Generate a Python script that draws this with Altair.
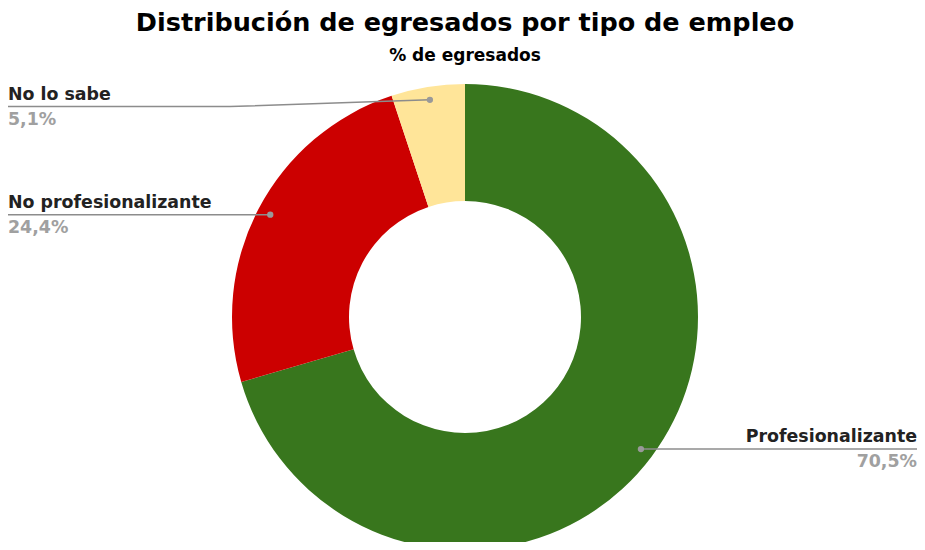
import math
import altair as alt
import pandas as pd

# ---- data ----
categories = ["Profesionalizante", "No profesionalizante", "No lo sabe"]
values = [70.5, 24.4, 5.1]
pct_labels = ["70,5%", "24,4%", "5,1%"]
colors = ["#38761d", "#cc0000", "#ffe599"]

title_text = "Distribución de egresados por tipo de empleo"
subtitle_text = "% de egresados"

# ---- layout ----
W, H = 909, 534
CX, CY = 457, 309
R_OUT, R_IN, R_DOT = 233, 116, 220
FONT = "DejaVu Sans"
# label line overrides (vertical position of label line) and elbows
label_line_y = {"No lo sabe": 98.5}
label_elbow_x = {"No lo sabe": 222}

total = sum(values)
rows, line_rows = [], []
cum = 0.0
for i, (c, v, p) in enumerate(zip(categories, values, pct_labels)):
    mid = (cum + v / 2) / total * 2 * math.pi
    cum += v
    dx = CX + R_DOT * math.sin(mid)
    dy = CY - R_DOT * math.cos(mid)
    right = math.sin(mid) > 0
    ly = label_line_y.get(c, dy)
    ex = label_elbow_x.get(c, dx)
    endx = W if right else 0
    rows.append(dict(cat=c, value=v, pct=p, idx=i, dx=dx, dy=dy, ly=ly,
                     tx=W if right else 0, align="right" if right else "left",
                     name_y=ly - 7, pct_y=ly + 18))
    for k, (px, py) in enumerate([(dx, dy), (ex, ly), (endx, ly)]):
        line_rows.append(dict(cat=c, k=k, x=px, y=py))

df = pd.DataFrame(rows)
ldf = pd.DataFrame(line_rows)

xs = alt.Scale(domain=[0, W], range=[0, W])
ys = alt.Scale(domain=[0, H], range=[0, H])

arc = alt.Chart(df).mark_arc(outerRadius=R_OUT, innerRadius=R_IN, strokeWidth=0).encode(
    theta=alt.Theta("value:Q", stack=True),
    color=alt.Color("cat:N", scale=alt.Scale(domain=categories, range=colors), legend=None),
    order=alt.Order("idx:Q"),
    x=alt.value(CX),
    y=alt.value(CY),
)

lines = alt.Chart(ldf).mark_line(color="#8c8c8c", strokeWidth=1.5).encode(
    x=alt.X("x:Q", scale=xs, axis=None),
    y=alt.Y("y:Q", scale=ys, axis=None),
    detail="cat:N",
    order="k:Q",
)

dots = alt.Chart(df).mark_circle(color="#999999", size=40, opacity=1).encode(
    x=alt.X("dx:Q", scale=xs, axis=None),
    y=alt.Y("dy:Q", scale=ys, axis=None),
)

def label_layer(align, field, yfield, color):
    return alt.Chart(df).transform_filter(alt.datum.align == align).mark_text(
        align=align, baseline="alphabetic", font=FONT, fontSize=17.4, fontWeight="bold", color=color
    ).encode(
        x=alt.X("tx:Q", scale=xs, axis=None),
        y=alt.Y(f"{yfield}:Q", scale=ys, axis=None),
        text=f"{field}:N",
    )

names_l = label_layer("left", "cat", "name_y", "#222222")
names_r = label_layer("right", "cat", "name_y", "#222222")
pcts_l = label_layer("left", "pct", "pct_y", "#a0a0a0")
pcts_r = label_layer("right", "pct", "pct_y", "#a0a0a0")

title = alt.Chart(pd.DataFrame({"t": [title_text]})).mark_text(
    font=FONT, fontSize=25.5, fontWeight="bold", color="#000000", align="center", baseline="alphabetic"
).encode(x=alt.value(CX), y=alt.value(23), text="t:N")
subtitle = alt.Chart(pd.DataFrame({"t": [subtitle_text]})).mark_text(
    font=FONT, fontSize=17, fontWeight="bold", color="#000000", align="center", baseline="alphabetic"
).encode(x=alt.value(CX), y=alt.value(53), text="t:N")

chart = alt.layer(arc, lines, dots, names_l, names_r, pcts_l, pcts_r, title, subtitle).properties(
    width=W, height=H, autosize=alt.AutoSizeParams(type="none"), padding=0
).configure_view(stroke=None)

chart.save("out.html", embed_options={"renderer": "svg", "actions": False})
